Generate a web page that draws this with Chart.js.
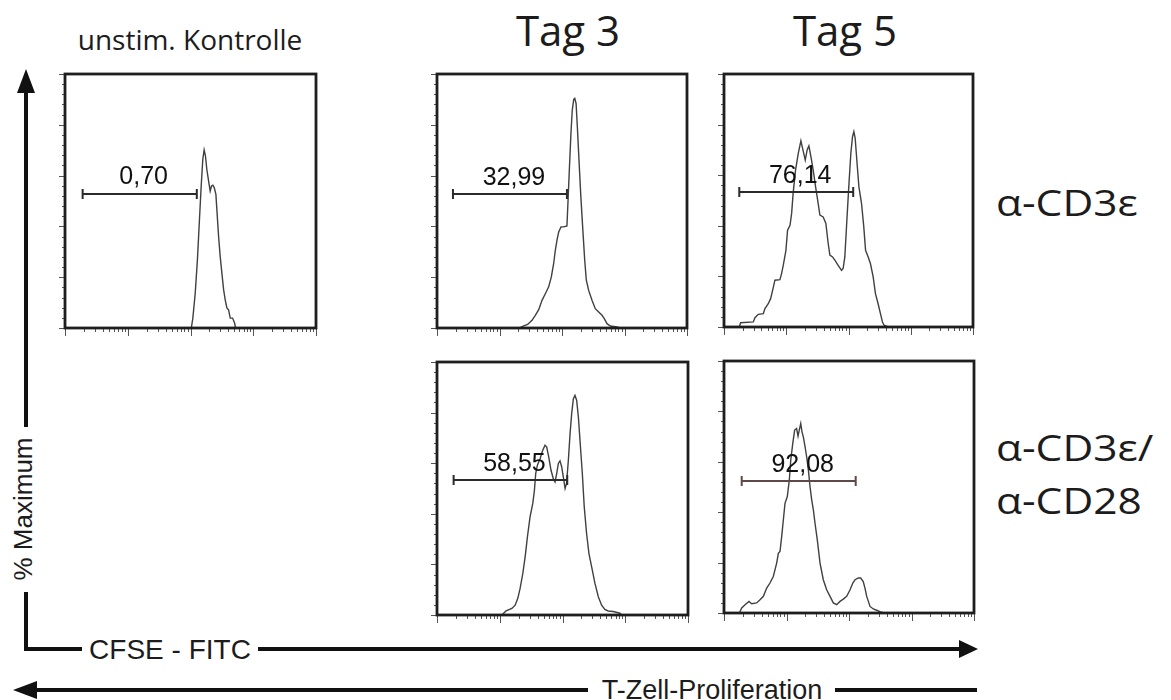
<!DOCTYPE html>
<html lang="de">
<head>
<meta charset="utf-8">
<title>CFSE Proliferation</title>
<script src="https://cdn.jsdelivr.net/npm/chart.js@4/dist/chart.umd.min.js"></script>
<style>
  html, body { margin: 0; padding: 0; background: #fff; }
  #stage { position: relative; width: 1171px; height: 700px; overflow: hidden; background: #fff; }
  #stage canvas { position: absolute; }
  #arrows { position: absolute; left: 0; top: 0; }
  .txt { position: absolute; white-space: nowrap; line-height: 1; color: #1c1c1c; }
  .head { font-family: "Open Sans", "Noto Sans", sans-serif; }
  .arial { font-family: "Liberation Sans", Arial, sans-serif; }
  .center { transform: translateX(-50%); }
  .row { transform: scaleX(1.18); transform-origin: left top; }
</style>
</head>
<body>
<div id="stage">
  <svg id="arrows" width="1171" height="700">
    <g stroke="#111" stroke-width="4" fill="none" stroke-linejoin="miter">
      <path d="M26 592 V649 H82" />
      <path d="M26 427 V88" />
      <path d="M258 649 H962" />
      <path d="M34 690 H588" />
      <path d="M835 690 H977" />
    </g>
    <g fill="#111">
      <polygon points="26,69 17,93 35,93" />
      <polygon points="978,649 959,640 959,658" />
      <polygon points="13,690 37,681 37,699" />
    </g>
  </svg>

  <div class="txt head center" style="left:190px; top:25px; font-size:28px;">unstim. Kontrolle</div>
  <div class="txt head center" style="left:568px; top:9px; font-size:42px;">Tag 3</div>
  <div class="txt head center" style="left:845px; top:9px; font-size:42px;">Tag 5</div>
  <div class="txt head row" style="left:996px; top:185px; font-size:36px;">α-CD3ε</div>
  <div class="txt head row" style="left:996px; top:430px; font-size:36px;">α-CD3ε/</div>
  <div class="txt head row" style="left:996px; top:483px; font-size:36px;">α-CD28</div>

  <div class="txt arial" style="left:23px; top:509px; font-size:26px; transform: translate(-50%, -50%) rotate(-90deg);">% Maximum</div>
  <div class="txt arial center" style="left:170px; top:636px; font-size:28px; background:#fff; padding:0 4px;">CFSE - FITC</div>
  <div class="txt arial center" style="left:712px; top:677px; font-size:27px;">T-Zell-Proliferation</div>
</div>

<script>
// CFSE intensity (x) and % of maximum (y)
const kontrolleX = [103, 109, 119, 129, 139, 148, 157, 165, 173, 182, 196, 206, 216, 227, 239, 254, 263, 280, 297, 316, 337, 357, 380, 404, 430, 468, 504, 522];
const kontrolleY = [0, 3.9, 13.8, 27, 42.8, 55.9, 66.4, 70.1, 67.8, 62.5, 57.2, 53.9, 55.9, 56.2, 55.3, 52.6, 46.7, 36.2, 28.3, 21.7, 15.1, 11.2, 7.9, 7.2, 3.9, 3.9, 2, 0];

const cd3Tag3X = [21.0, 24.4, 28.2, 33.1, 37.4, 42.4, 47.9, 54.1, 61.2, 67.5, 73.6, 78.2, 83.2, 88.5, 96.4, 106, 120, 125, 131, 139, 146, 154, 160, 168, 176, 187, 199, 214, 231, 245, 267, 302, 341, 386, 437, 475, 525, 593, 759, 838];
const cd3Tag3Y = [0, 0.8, 1.4, 3.0, 5.0, 7.2, 10.9, 13.5, 16.2, 20.1, 25.4, 30.6, 34.6, 37.8, 39.8, 39.8, 40.2, 50.3, 62.2, 76.6, 85.8, 90.0, 90.4, 88.4, 79.2, 66.1, 52.9, 39.8, 26.7, 18.8, 14.8, 10.9, 7.6, 6.3, 5.0, 3.7, 1.7, 0.8, 0.4, 0];

const cd3Tag5X = [1.76, 1.85, 2.96, 3.14, 3.56, 4.28, 4.55, 5.14, 5.61, 6.04, 6.58, 7.91, 8.41, 8.95, 9.88, 10.5, 11.5, 12.2, 12.9, 14.1, 15.6, 17.2, 18.3, 20.2, 21.7, 23.1, 24.9, 27.1, 29.6, 32.6, 34.7, 39.2, 43.3, 47.2, 50.2, 55.4, 60.4, 68.2, 77.3, 82.0, 87.3, 92.9, 101, 109, 116, 122, 128, 136, 147, 162, 176, 188, 207, 225, 249, 271, 299, 326, 351, 373, 433];
const cd3Tag5Y = [0, 1.7, 2.0, 3.7, 5.0, 5.3, 7.3, 9.2, 11.2, 14.5, 18.5, 18.7, 21.1, 24.4, 30.3, 38.3, 40.2, 44.9, 52.8, 62.0, 68.6, 73.6, 70.6, 66.0, 70.1, 71.6, 67.3, 62.0, 55.4, 48.8, 44.2, 43.5, 40.9, 33.0, 28.4, 27.7, 26.4, 24.4, 22.4, 23.1, 27.7, 39.6, 55.4, 68.6, 75.2, 77.2, 74.6, 66.0, 55.4, 48.8, 39.6, 30.3, 27.7, 25.1, 19.8, 13.2, 9.2, 5.3, 2.0, 0.7, 0];

const cd28Tag3X = [10.8, 12.6, 15.6, 17.6, 19.4, 21.1, 23.3, 25.4, 27.6, 30.4, 33.6, 35.7, 37.4, 39.8, 43.9, 48.4, 52.7, 56.0, 60.3, 65.6, 71.4, 76.0, 80.8, 85.9, 91.2, 97.0, 103, 110, 116, 124, 132, 140, 149, 158, 168, 179, 190, 207, 222, 242, 264, 291, 329, 372, 420, 473, 535, 643, 820, 871];
const cd28Tag3Y = [0, 1.6, 2.6, 3.9, 6.6, 10.5, 16.4, 23.0, 30.9, 38.8, 44.1, 49.3, 55.9, 59.2, 61.8, 65.1, 67.1, 66.4, 62.5, 57.2, 53.9, 52.6, 55.9, 59.9, 60.9, 58.6, 54.6, 50.0, 52.0, 61.2, 71.7, 79.6, 85.5, 86.8, 84.9, 78.3, 69.1, 55.9, 42.8, 32.2, 24.3, 19.1, 12.5, 7.2, 3.9, 2.2, 1.6, 1.4, 0.7, 0];

const cd28Tag5X = [1.76, 1.92, 2.17, 2.51, 2.77, 3.33, 3.77, 4.26, 4.82, 5.44, 6.15, 6.96, 7.40, 7.87, 8.37, 8.90, 9.46, 10.3, 11.1, 11.7, 12.6, 13.5, 14.5, 15.3, 16.0, 16.9, 17.7, 18.6, 19.8, 21.0, 22.4, 23.8, 25.3, 26.9, 28.6, 31.1, 34.4, 38.8, 43.9, 49.7, 56.1, 63.5, 71.8, 81.1, 91.8, 104, 115, 125, 141, 154, 169, 180, 192, 217, 245, 277, 313, 363];
const cd28Tag5Y = [0, 2.0, 3.3, 4.6, 3.7, 4.0, 5.3, 6.6, 9.9, 11.9, 14.5, 19.8, 23.7, 24.4, 30.3, 36.9, 43.5, 46.2, 52.8, 60.7, 67.3, 72.6, 73.2, 70.2, 72.6, 75.2, 71.9, 69.9, 66.0, 62.0, 56.7, 50.1, 44.9, 40.9, 35.6, 29.0, 19.8, 13.2, 9.2, 6.6, 4.0, 3.3, 4.6, 5.5, 6.6, 9.2, 11.9, 13.2, 13.9, 13.9, 12.5, 9.9, 6.6, 2.6, 1.6, 1.1, 0.5, 0];

// proliferation gates: percentage label, gate range on the CFSE axis, gate height
const gateLabels = ["0,70", "32,99", "76,14", "58,55", "92,08"];
const gateFrom = [1.91, 1.80, 1.76, 1.84, 1.92];
const gateTo = [126, 120, 119, 119, 128];
const gateLevel = [52.9, 52.6, 53.2, 53.3, 52.5];

// axis ticks (no labels drawn)
const xMajorTicks = [1, 10, 100, 1000, 10000];
const xMinorTicks = [2, 3, 4, 5, 6, 7, 8, 9, 20, 30, 40, 50, 60, 70, 80, 90, 200, 300, 400, 500, 600, 700, 800, 900, 2000, 3000, 4000, 5000, 6000, 7000, 8000, 9000];
const yMajorTicks = [0, 20, 40, 60, 80, 100];
const yMinorTicks = [4, 8, 12, 16, 24, 28, 32, 36, 44, 48, 52, 56, 64, 68, 72, 76, 84, 88, 92, 96];

(() => {
  const stage = document.getElementById("stage");
  const PAD = { left: 10, top: 4, right: 4, bottom: 12 };
  const LABEL_SIZE = 25;

  // frame box of each panel: [left, top, width, height]
  const panels = [
    { xs: kontrolleX, ys: kontrolleY, box: [65, 74, 251, 254], gateColor: "#2b2b2b" },
    { xs: cd3Tag3X, ys: cd3Tag3Y, box: [437, 74, 250, 254], gateColor: "#2b2b2b" },
    { xs: cd3Tag5X, ys: cd3Tag5Y, box: [724, 74, 249, 253], gateColor: "#2b2b2b" },
    { xs: cd28Tag3X, ys: cd28Tag3Y, box: [437, 362, 251, 253], gateColor: "#2b2b2b" },
    { xs: cd28Tag5X, ys: cd28Tag5Y, box: [724, 361, 250, 252], gateColor: "#5e4848" }
  ];

  const flowFrame = {
    id: "flowFrame",
    afterDatasetsDraw(chart, args, opts) {
      const { ctx, chartArea: area } = chart;
      const x = chart.scales.x;
      const y = chart.scales.y;

      ctx.save();

      // gate bar with end caps
      const gx1 = x.getPixelForValue(opts.from);
      const gx2 = x.getPixelForValue(opts.to);
      const gy = Math.round(y.getPixelForValue(opts.level));
      ctx.strokeStyle = opts.color;
      ctx.lineWidth = 2;
      ctx.beginPath();
      ctx.moveTo(gx1, gy);
      ctx.lineTo(gx2, gy);
      ctx.moveTo(gx1, gy - 5);
      ctx.lineTo(gx1, gy + 5);
      ctx.moveTo(gx2, gy - 5);
      ctx.lineTo(gx2, gy + 5);
      ctx.stroke();

      // tick marks outside the frame
      ctx.strokeStyle = "#555";
      ctx.lineWidth = 1;
      ctx.beginPath();
      const xTick = (v, len) => {
        const px = Math.round(x.getPixelForValue(v)) + 0.5;
        ctx.moveTo(px, area.bottom);
        ctx.lineTo(px, area.bottom + len);
      };
      const yTick = (v, len) => {
        const py = Math.round(y.getPixelForValue(v)) + 0.5;
        ctx.moveTo(area.left, py);
        ctx.lineTo(area.left - len, py);
      };
      xMinorTicks.forEach((v) => xTick(v, 4));
      xMajorTicks.forEach((v) => xTick(v, 8));
      yMinorTicks.forEach((v) => yTick(v, 3));
      yMajorTicks.forEach((v) => yTick(v, 6));
      ctx.stroke();

      // frame
      ctx.strokeStyle = "#1e1e1e";
      ctx.lineWidth = 2.8;
      ctx.strokeRect(area.left, area.top, area.right - area.left, area.bottom - area.top);

      ctx.restore();
    }
  };

  function addGateLabel(chart, index, canvasLeft, canvasTop) {
    const x = chart.scales.x;
    const y = chart.scales.y;
    const mid = (x.getPixelForValue(gateFrom[index]) + x.getPixelForValue(gateTo[index])) / 2 + 4;
    const gy = y.getPixelForValue(gateLevel[index]);
    const el = document.createElement("div");
    el.className = "txt arial center";
    el.style.fontSize = `${LABEL_SIZE}px`;
    el.style.color = "#111";
    el.style.left = `${canvasLeft + mid}px`;
    el.style.top = `${canvasTop + gy - 9 - 0.8465 * LABEL_SIZE}px`;
    el.textContent = gateLabels[index];
    stage.appendChild(el);
  }

  function renderPanel(panel, index) {
    const [left, top, w, h] = panel.box;
    const canvas = document.createElement("canvas");
    const cw = w + PAD.left + PAD.right;
    const ch = h + PAD.top + PAD.bottom;
    const cl = left - PAD.left;
    const ct = top - PAD.top;
    canvas.width = cw;
    canvas.height = ch;
    canvas.style.left = `${cl}px`;
    canvas.style.top = `${ct}px`;
    canvas.style.width = `${cw}px`;
    canvas.style.height = `${ch}px`;
    stage.appendChild(canvas);

    const points = panel.xs.map((xv, i) => ({ x: xv, y: panel.ys[i] }));

    const chart = new Chart(canvas.getContext("2d"), {
      type: "line",
      data: {
        datasets: [
          {
            data: points,
            borderColor: "#404040",
            borderWidth: 1.4,
            pointRadius: 0,
            tension: 0,
            fill: false
          }
        ]
      },
      options: {
        responsive: false,
        animation: false,
        events: [],
        layout: { padding: PAD },
        plugins: {
          legend: { display: false },
          tooltip: { enabled: false },
          flowFrame: {
            from: gateFrom[index],
            to: gateTo[index],
            level: gateLevel[index],
            color: panel.gateColor
          }
        },
        scales: {
          x: { type: "logarithmic", min: 1, max: 10000, display: false },
          y: { type: "linear", min: 0, max: 100, display: false }
        }
      },
      plugins: [flowFrame]
    });

    addGateLabel(chart, index, cl, ct);
  }

  panels.forEach(renderPanel);
})();
</script>
</body>
</html>
